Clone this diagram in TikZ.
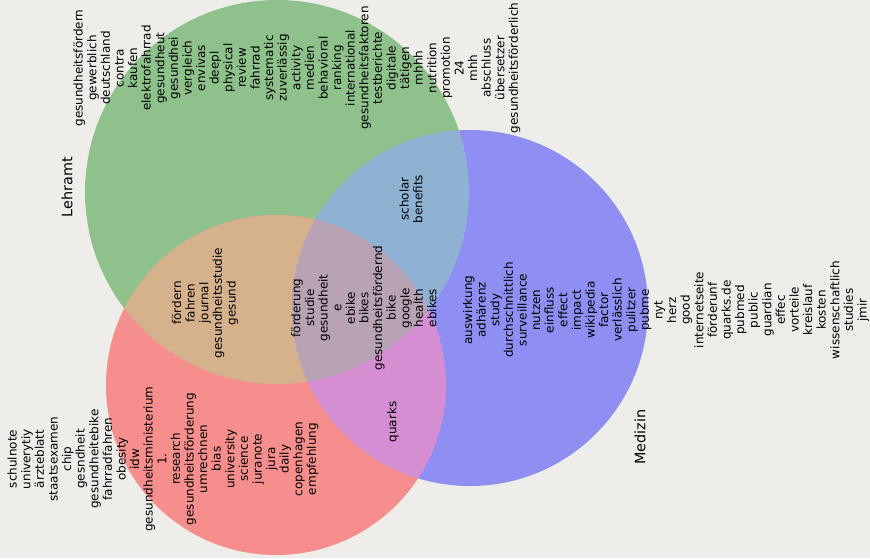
\documentclass[tikz,border=0pt]{standalone}
\usepackage{fontspec}
\setmainfont{DejaVu Sans}
\definecolor{bgc}{RGB}{238,237,233}
\definecolor{cR}{RGB}{245,142,140}
\definecolor{cG}{RGB}{143,193,140}
\definecolor{cB}{RGB}{143,142,242}
\definecolor{cRG}{RGB}{214,178,140}
\definecolor{cGB}{RGB}{143,178,211}
\definecolor{cRB}{RGB}{214,142,211}
\definecolor{cRGB}{RGB}{184,163,181}
\tikzset{
  words/.style={rotate=90, align=center, inner sep=0pt, font=\fontsize{12}{13.6}\selectfont},
  setname/.style={rotate=90, align=center, inner sep=0pt, font=\fontsize{14.4}{17}\selectfont}
}
\begin{document}
\begin{tikzpicture}[x=1pt,y=-1pt]
\useasboundingbox[fill=bgc] (0,0) rectangle (870,558);
\coordinate (G) at (277,192);
\coordinate (R) at (276,385);
\coordinate (B) at (470,308);
\def\gcirc{(G) circle[radius=192pt]}
\def\rcirc{(R) circle[radius=170pt]}
\def\bcirc{(B) circle[radius=178pt]}
\fill[cG] \gcirc;
\fill[cR] \rcirc;
\fill[cB] \bcirc;
\begin{scope}\clip \gcirc; \fill[cRG] \rcirc; \end{scope}
\begin{scope}\clip \gcirc; \fill[cGB] \bcirc; \end{scope}
\begin{scope}\clip \rcirc; \fill[cRB] \bcirc; \end{scope}
\begin{scope}\clip \gcirc; \clip \rcirc; \fill[cRGB] \bcirc; \end{scope}

\node[words] (tg) at (297,68) {gesundheitsfördern\\gewerblich\\deutschland\\contra\\kaufen\\elektrofahrrad\\gesundheut\\gesundhei\\vergleich\\envivas\\deepl\\physical\\review\\fahrrad\\systematic\\zuverlässig\\activity\\medien\\behavioral\\ranking\\international\\gesundheitsfaktoren\\testberichte\\digitale\\tätigen\\mhhh\\nutrition\\promotion\\24\\mhh\\abschluss\\übersetzer\\gesundheitsförderlich};
\node[words] (tr) at (163,459) {schulnote\\univerytiy\\ärzteblatt\\staatsexamen\\chip\\gesndheit\\gesundheitebike\\fahrradfahren\\obesity\\idw\\gesundheitsministerium\\1.\\research\\gesundheitsförderung\\umrechnen\\bias\\university\\science\\juranote\\jura\\daily\\copenhagen\\empfehlung};
\node[words] (tb) at (666,310) {auswirkung\\adhärenz\\study\\durchschnittlich\\surveillance\\nutzen\\einfluss\\effect\\impact\\wikipedia\\factor\\verlässlich\\pulitzer\\pubme\\nyt\\herz\\good\\internetseite\\förderunf\\quarks.de\\pubmed\\public\\guardian\\effec\\vorteile\\kreislauf\\kosten\\wissenschaftlich\\studies\\jmir};
\node[words] (trg) at (205,303) {fördern\\fahren\\journal\\gesundheitsstudie\\gesund};
\node[words] (tgb) at (411,199) {scholar\\benefits};
\node[words] (trb) at (393,422) {quarks};
\node[words] (trgb) at (364,308) {förderung\\studie\\gesundheit\\e\\ebike\\bikes\\gesundheitsfördernd\\bike\\google\\health\\ebikes};
\node[setname] (lg) at (67,187) {Lehramt};
\node[setname] (lb) at (640,437) {Medizin};
\end{tikzpicture}
\end{document}
